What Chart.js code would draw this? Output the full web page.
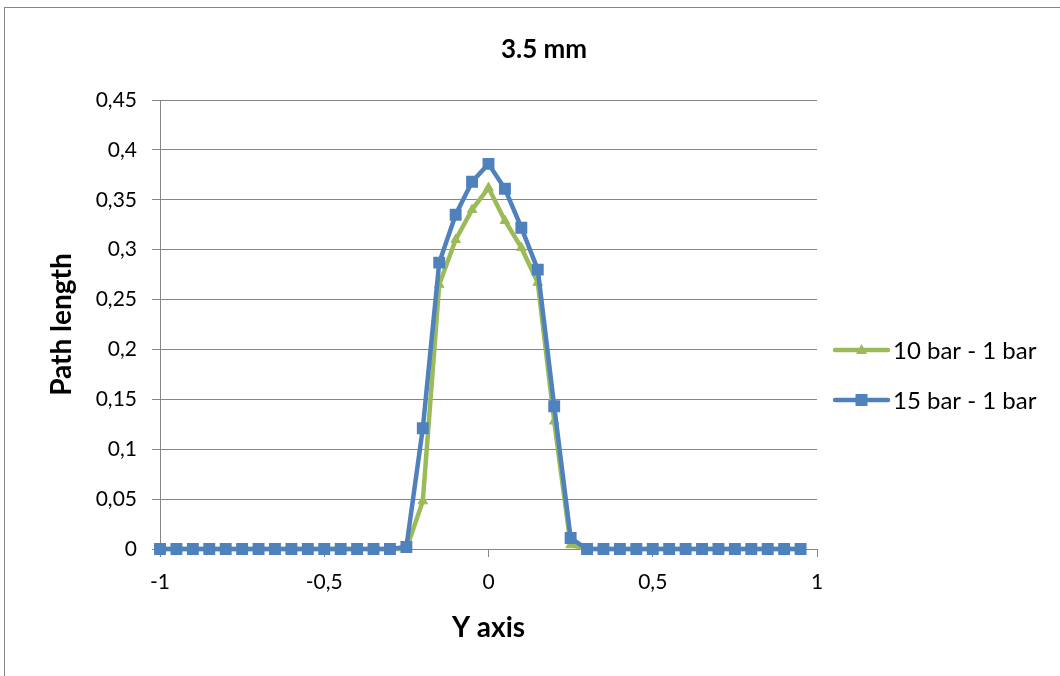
<!DOCTYPE html>
<html>
<head>
<meta charset="utf-8">
<title>3.5 mm</title>
<script src="https://cdn.jsdelivr.net/npm/chart.js@4/dist/chart.umd.min.js"></script>
<style>
  html, body { margin: 0; padding: 0; background: #ffffff; overflow: hidden; }
  #wrap { width: 1060px; height: 676px; position: relative; }
</style>
</head>
<body>
<div id="wrap"><canvas id="chart" width="1060" height="676"></canvas></div>
<script>
// Positions along the Y axis
const yPositions = [-1, -0.95, -0.9, -0.85, -0.8, -0.75, -0.7, -0.65, -0.6, -0.55,
  -0.5, -0.45, -0.4, -0.35, -0.3, -0.25, -0.2, -0.15, -0.1, -0.05,
  0, 0.05, 0.1, 0.15, 0.2, 0.25, 0.3, 0.35, 0.4, 0.45,
  0.5, 0.55, 0.6, 0.65, 0.7, 0.75, 0.8, 0.85, 0.9, 0.95];

// Path length differences
const bar10minus1 = [0, 0, 0, 0, 0, 0, 0, 0, 0, 0,
  0, 0, 0, 0, 0, 0, 0.048, 0.265, 0.31, 0.34,
  0.362, 0.329, 0.302, 0.267, 0.128, 0.004, 0, 0, 0, 0,
  0, 0, 0, 0, 0, 0, 0, 0, 0, 0];

const bar15minus1 = [0, 0, 0, 0, 0, 0, 0, 0, 0, 0,
  0, 0, 0, 0, 0, 0.002, 0.121, 0.287, 0.335, 0.368,
  0.386, 0.361, 0.322, 0.28, 0.143, 0.011, 0, 0, 0, 0,
  0, 0, 0, 0, 0, 0, 0, 0, 0, 0];

const seriesNames = ['10 bar - 1 bar', '15 bar - 1 bar'];
const chartTitle = '3.5 mm';
const xTitle = 'Y axis';
const yTitle = 'Path length';

const GREEN = '#9BBB59';
const BLUE = '#4F81BD';
const AXIS = '#868686';
const FONT = 'Lato, "Open Sans", sans-serif';

const toPoints = (ys) => yPositions.map((x, i) => ({ x: x, y: ys[i] }));
const commaNum = (v) => String(Number(Number(v).toFixed(2))).replace('.', ',');

// Outer chart frame
const framePlugin = {
  id: 'frame',
  beforeDraw(chart) {
    const ctx = chart.ctx;
    ctx.save();
    ctx.fillStyle = '#ffffff';
    ctx.fillRect(0, 0, chart.width, chart.height);
    ctx.strokeStyle = AXIS;
    ctx.lineWidth = 1;
    ctx.strokeRect(4.5, 7.5, chart.width + 40, chart.height + 40);
    ctx.restore();
  }
};

// Chart heading
const headingPlugin = {
  id: 'heading',
  afterDraw(chart) {
    const ctx = chart.ctx;
    ctx.save();
    ctx.font = 'bold 26px ' + FONT;
    ctx.fillStyle = '#000000';
    ctx.textAlign = 'center';
    ctx.textBaseline = 'middle';
    ctx.fillText(chartTitle, 544, 50);
    ctx.restore();
  }
};

// Legend on the right: a line sample with its marker, then the name
const sideLegendPlugin = {
  id: 'sideLegend',
  afterDraw(chart) {
    const ctx = chart.ctx;
    const area = chart.chartArea;
    const mid = (area.top + area.bottom) / 2;
    const items = [
      { name: seriesNames[0], color: GREEN, marker: 'triangle', y: mid + 25.5 },
      { name: seriesNames[1], color: BLUE, marker: 'square', y: mid + 75.5 }
    ];
    ctx.save();
    items.forEach((it) => {
      const x0 = area.right + 18, x1 = area.right + 71, xm = (x0 + x1) / 2;
      ctx.strokeStyle = it.color;
      ctx.lineWidth = 4.5;
      ctx.lineCap = 'round';
      ctx.beginPath();
      ctx.moveTo(x0, it.y);
      ctx.lineTo(x1, it.y);
      ctx.stroke();
      ctx.fillStyle = it.color;
      ctx.beginPath();
      if (it.marker === 'square') {
        ctx.rect(xm - 6, it.y - 6, 12, 12);
      } else {
        ctx.moveTo(xm, it.y - 6);
        ctx.lineTo(xm + 5.5, it.y + 4);
        ctx.lineTo(xm - 5.5, it.y + 4);
        ctx.closePath();
      }
      ctx.fill();
      ctx.fillStyle = '#000000';
      ctx.font = '24px ' + FONT;
      ctx.textAlign = 'left';
      ctx.textBaseline = 'middle';
      ctx.fillText(it.name, x1 + 5, it.y + 1);
    });
    ctx.restore();
  }
};

new Chart(document.getElementById('chart'), {
  type: 'scatter',
  data: {
    datasets: [
      {
        label: seriesNames[0],
        data: toPoints(bar10minus1),
        showLine: true,
        tension: 0,
        clip: false,
        borderColor: GREEN,
        backgroundColor: GREEN,
        borderWidth: 4.5,
        pointStyle: 'triangle',
        pointRadius: 5.5,
        pointBorderWidth: 1,
        order: 1
      },
      {
        label: seriesNames[1],
        data: toPoints(bar15minus1),
        showLine: true,
        tension: 0,
        clip: false,
        borderColor: BLUE,
        backgroundColor: BLUE,
        borderWidth: 4.5,
        pointStyle: 'rect',
        pointRadius: 7,
        pointBorderWidth: 2,
        order: 0
      }
    ]
  },
  options: {
    responsive: false,
    animation: false,
    events: [],
    layout: { padding: { top: 100, right: 243, bottom: 0, left: 30 } },
    plugins: {
      legend: { display: false },
      title: { display: false },
      tooltip: { enabled: false }
    },
    scales: {
      x: {
        type: 'linear',
        min: -1,
        max: 1,
        afterFit(scale) { scale.height = 127; },
        ticks: {
          stepSize: 0.5,
          padding: 13,
          color: '#000000',
          font: { family: FONT, size: 21 },
          maxRotation: 0,
          callback: (v) => commaNum(v)
        },
        grid: {
          drawOnChartArea: false,
          drawTicks: true,
          tickLength: 8,
          color: AXIS,
          lineWidth: 1
        },
        border: { display: true, color: AXIS, width: 1 },
        title: {
          display: true,
          text: xTitle,
          color: '#000000',
          font: { family: FONT, size: 28, weight: 'bold' },
          padding: { top: 0, bottom: 31 }
        }
      },
      y: {
        type: 'linear',
        min: 0,
        max: 0.45,
        afterFit(scale) { scale.width = 130; },
        ticks: {
          stepSize: 0.05,
          padding: 15,
          color: '#000000',
          font: { family: FONT, size: 21 },
          callback: (v) => commaNum(v)
        },
        grid: {
          drawOnChartArea: true,
          drawTicks: true,
          tickLength: 8,
          color: AXIS,
          lineWidth: 1
        },
        border: { display: true, color: AXIS, width: 1 },
        title: {
          display: true,
          text: yTitle,
          color: '#000000',
          font: { family: FONT, size: 28, weight: 'bold' },
          padding: { top: 15, bottom: 0 }
        }
      }
    }
  },
  plugins: [framePlugin, headingPlugin, sideLegendPlugin]
});
</script>
</body>
</html>
